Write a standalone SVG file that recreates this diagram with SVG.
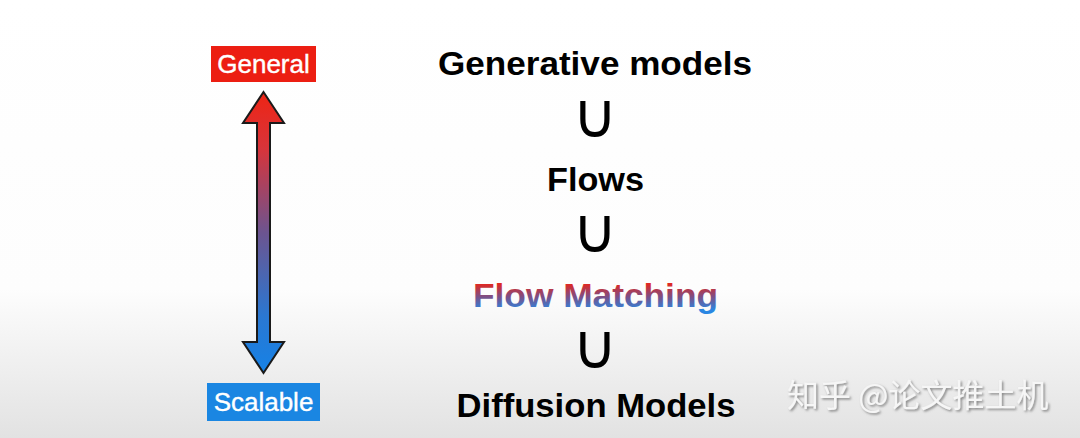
<svg xmlns="http://www.w3.org/2000/svg" width="1080" height="438" viewBox="0 0 1080 438">
  <style>
    .title { font-family: "Liberation Sans", Arial, sans-serif; font-weight: bold; font-size: 34px; text-anchor: middle; fill: #000; }
    .sub { font-family: "DejaVu Sans", sans-serif; font-size: 62px; text-anchor: middle; fill: #000; }
    .tag { font-family: "Liberation Sans", Arial, sans-serif; font-size: 26px; text-anchor: middle; fill: #fff; stroke: #fff; stroke-width: 0.4px; }
    .wm { font-family: "Noto Sans CJK SC", "Noto Sans", sans-serif; font-size: 32px; fill: #f6f6f6; }
  </style>
  <defs>
    <linearGradient id="bg" x1="0" y1="0" x2="0" y2="438" gradientUnits="userSpaceOnUse">
      <stop offset="0" stop-color="#ffffff"/>
      <stop offset="0.66" stop-color="#fdfdfd"/>
      <stop offset="1" stop-color="#e2e2e2"/>
    </linearGradient>
    <linearGradient id="arrowGrad" x1="0" y1="92" x2="0" y2="373" gradientUnits="userSpaceOnUse">
      <stop offset="0" stop-color="#ee2414"/>
      <stop offset="0.2" stop-color="#d8343a"/>
      <stop offset="0.5" stop-color="#6c5490"/>
      <stop offset="0.8" stop-color="#2a78d2"/>
      <stop offset="1" stop-color="#1682e6"/>
    </linearGradient>
    <linearGradient id="fmGrad" x1="0" y1="284" x2="0" y2="310" gradientUnits="userSpaceOnUse">
      <stop offset="0" stop-color="#e02822"/>
      <stop offset="0.5" stop-color="#7a5088"/>
      <stop offset="1" stop-color="#2a86e2"/>
    </linearGradient>
    <filter id="wmShadow" x="-5%" y="-20%" width="110%" height="140%">
      <feDropShadow dx="1.5" dy="1.5" stdDeviation="1" flood-color="#7a7a7a" flood-opacity="0.9"/>
    </filter>
  </defs>

  <rect x="0" y="0" width="1080" height="438" fill="url(#bg)"/>

  <g id="general">
    <rect x="211" y="46" width="105" height="36" fill="#ec1e12"/>
    <text class="tag" x="263.5" y="73">General</text>
  </g>

  <g id="scalable">
    <rect x="207" y="383" width="113" height="38" fill="#1a86e2"/>
    <text class="tag" x="263.5" y="411">Scalable</text>
  </g>

  <g id="connectors">
    <path d="M263.5,92 L284,123 L270,123 L270,342 L284,342 L263.5,373 L243,342 L257,342 L257,123 L243,123 Z"
          fill="url(#arrowGrad)" stroke="#1a1a1a" stroke-width="2" stroke-linejoin="miter"/>
  </g>

  <g id="generative-models">
    <text class="title" x="595" y="75" textLength="314" lengthAdjust="spacingAndGlyphs">Generative models</text>
  </g>
  <g id="subset-1">
    <text class="sub" x="595" y="137">∪</text>
  </g>
  <g id="flows">
    <text class="title" x="595.5" y="191" textLength="97" lengthAdjust="spacingAndGlyphs">Flows</text>
  </g>
  <g id="subset-2">
    <text class="sub" x="595" y="252">∪</text>
  </g>
  <g id="flow-matching">
    <text class="title" x="595.5" y="307" textLength="245" lengthAdjust="spacingAndGlyphs" style="fill:url(#fmGrad)">Flow Matching</text>
  </g>
  <g id="subset-3">
    <text class="sub" x="595" y="368">∪</text>
  </g>
  <g id="diffusion-models">
    <text class="title" x="596" y="417" textLength="279" lengthAdjust="spacingAndGlyphs">Diffusion Models</text>
  </g>

  <g id="watermark">
    <text class="wm" x="787" y="407" filter="url(#wmShadow)">知乎 @论文推土机</text>
  </g>
</svg>
